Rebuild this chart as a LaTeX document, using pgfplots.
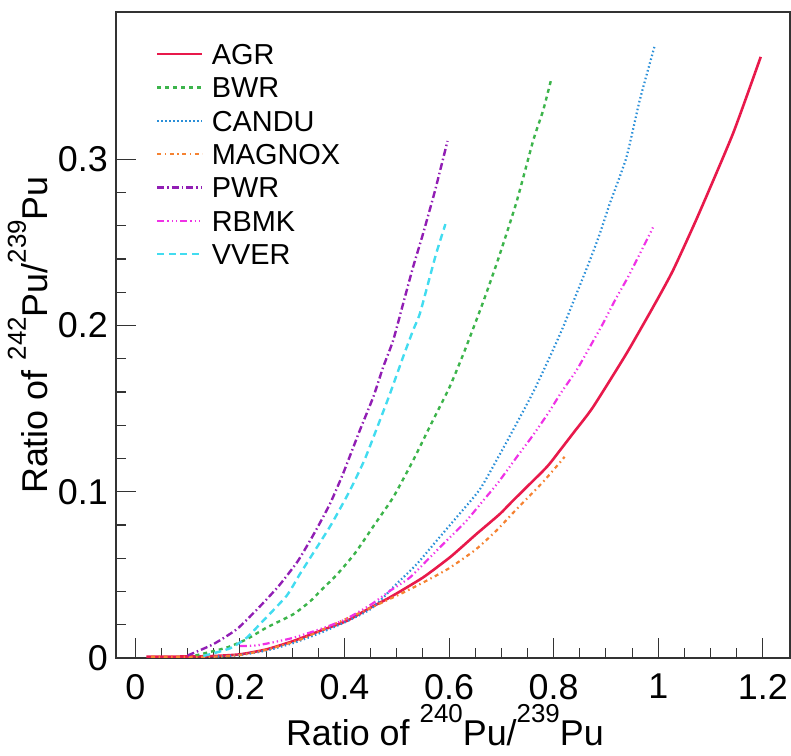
\documentclass[border=0pt]{standalone}
\usepackage{fontspec}
\setmainfont{Liberation Sans}
\usepackage{pgfplots}
\pgfplotsset{compat=1.18}
\usetikzlibrary{calc}
\definecolor{cAGR}{HTML}{E8194B}
\definecolor{cBWR}{HTML}{3CB44B}
\definecolor{cCANDU}{HTML}{2A8FD8}
\definecolor{cMAGNOX}{HTML}{F58231}
\definecolor{cPWR}{HTML}{911EB4}
\definecolor{cRBMK}{HTML}{F032E6}
\definecolor{cVVER}{HTML}{42DCF0}
\newcommand{\isosup}[1]{\raisebox{0.62em}{\fontsize{26}{26}\selectfont #1}}
\begin{document}
\begin{tikzpicture}
\begin{axis}[
  scale only axis, width=674bp, height=646bp,
  xmin=-0.037, xmax=1.252, ymin=0, ymax=0.3886,
  axis line style={line width=1.3bp, black!80},
  xtick={0,0.2,0.4,0.6,0.8,1,1.2}, ytick={0,0.1,0.2,0.3},
  minor x tick num=3, minor y tick num=4,
  tick align=inside, xtick pos=bottom, ytick pos=left,
  major tick length=20bp, minor tick length=10bp,
  every tick/.style={line width=1.1bp, black!80},
  /pgf/number format/assume math mode=true,
  tick label style={font=\fontsize{36}{40}\selectfont, inner sep=0pt},
  xticklabel style={anchor=north, yshift=-16bp},
  yticklabel style={anchor=east, xshift=-8bp},
  xlabel={Ratio of \isosup{240}Pu/\isosup{239}Pu},
  ylabel={Ratio of \isosup{242}Pu/\isosup{239}Pu},
  label style={font=\fontsize{36}{40}\selectfont, inner sep=0pt},
  xlabel style={at={(axis description cs:0.488,-0.1347)}, anchor=base},
  ylabel style={at={(axis description cs:-0.1009,0.5)}, anchor=base},
  legend style={draw=none, fill=none, at={(axis description cs:0.0593,0.9513)}, anchor=north west,
    font=\fontsize{29}{33}\selectfont, inner sep=0pt, row sep=12.3bp,
    nodes={inner sep=0pt, text height=21bp, text depth=0pt},
    /tikz/every odd column/.append style={column sep=8bp}},
  legend cell align=left,
  legend image code/.code={\draw[#1] (0bp,0bp) -- (45bp,0bp);},
  every axis plot/.append style={smooth, tension=0.35},
]
\addplot[cAGR, line width=2.6bp] coordinates {
(0.021,0.0008)(0.10,0.0009)(0.15,0.0012)(0.20,0.0022)(0.251,0.0052)(0.302,0.0102)(0.353,0.0163)(0.404,0.0223)(0.448,0.030)(0.487,0.0365)(0.55,0.0484)(0.601,0.0604)(0.627,0.0675)(0.652,0.0745)(0.697,0.0866)(0.722,0.0946)(0.786,0.1146)(0.8116,0.1247)(0.838,0.1355)(0.875,0.1508)(0.939,0.183)(0.99,0.211)(1.028,0.233)(1.076,0.266)(1.143,0.3155)(1.196,0.3616)};
\addlegendentry{AGR}
\addplot[cBWR, line width=2.4bp, dash pattern=on 4bp off 4bp] coordinates {
(0.115,0.0015)(0.174,0.0062)(0.213,0.0113)(0.251,0.0183)(0.302,0.0263)(0.334,0.034)(0.356,0.041)(0.385,0.050)(0.42,0.063)(0.458,0.0805)(0.493,0.0966)(0.531,0.1187)(0.566,0.141)(0.601,0.163)(0.63,0.185)(0.665,0.214)(0.694,0.240)(0.729,0.2743)(0.761,0.3114)(0.78,0.3295)(0.796,0.349)};
\addlegendentry{BWR}
\addplot[cCANDU, line width=2.2bp, dash pattern=on 1.5bp off 2.5bp] coordinates {
(0.15,0.0008)(0.2,0.0018)(0.251,0.0045)(0.302,0.009)(0.353,0.015)(0.404,0.022)(0.448,0.029)(0.474,0.0363)(0.499,0.0444)(0.538,0.0564)(0.576,0.0705)(0.614,0.0845)(0.659,0.1015)(0.697,0.1225)(0.729,0.141)(0.761,0.16)(0.7925,0.181)(0.818,0.199)(0.8436,0.219)(0.869,0.239)(0.888,0.255)(0.907,0.273)(0.939,0.301)(0.9646,0.3355)(0.993,0.368)};
\addlegendentry{CANDU}
\addplot[cMAGNOX, line width=2.2bp, dash pattern=on 4bp off 3.5bp on 1.5bp off 3.5bp] coordinates {
(0.03,0.0008)(0.15,0.0008)(0.2,0.0018)(0.251,0.005)(0.3145,0.011)(0.378,0.020)(0.442,0.029)(0.51,0.039)(0.56,0.047)(0.60,0.054)(0.65,0.065)(0.69,0.0765)(0.729,0.0895)(0.78,0.106)(0.821,0.121)};
\addlegendentry{MAGNOX}
\addplot[cPWR, line width=2.4bp, dash pattern=on 7bp off 3bp on 1.5bp off 3bp] coordinates {
(0.10,0.0015)(0.149,0.0083)(0.194,0.0173)(0.232,0.029)(0.254,0.0363)(0.276,0.044)(0.311,0.0584)(0.343,0.0755)(0.372,0.0926)(0.397,0.1107)(0.429,0.1367)(0.455,0.157)(0.474,0.175)(0.493,0.191)(0.512,0.213)(0.531,0.235)(0.55,0.255)(0.573,0.281)(0.597,0.311)};
\addlegendentry{PWR}
\addplot[cRBMK, line width=2.2bp, dash pattern=on 7bp off 3bp on 1.3bp off 3bp on 1.3bp off 3bp on 1.3bp off 3bp] coordinates {
(0.20,0.0072)(0.23,0.0075)(0.26,0.0092)(0.30,0.012)(0.35,0.017)(0.40,0.023)(0.45,0.032)(0.487,0.0404)(0.525,0.0484)(0.563,0.0604)(0.595,0.0705)(0.633,0.0825)(0.665,0.0946)(0.694,0.1056)(0.729,0.1207)(0.7575,0.1327)(0.789,0.147)(0.815,0.160)(0.8436,0.173)(0.869,0.187)(0.894,0.201)(0.917,0.215)(0.942,0.229)(0.9646,0.243)(0.99,0.259)};
\addlegendentry{RBMK}
\addplot[cVVER, line width=2.4bp, dash pattern=on 7bp off 4.5bp] coordinates {
(0.13,0.0012)(0.181,0.0058)(0.213,0.0122)(0.238,0.0203)(0.289,0.0373)(0.3145,0.0504)(0.343,0.0645)(0.375,0.0805)(0.41,0.1006)(0.439,0.1197)(0.4675,0.1428)(0.487,0.159)(0.512,0.181)(0.531,0.197)(0.544,0.207)(0.563,0.229)(0.576,0.244)(0.593,0.261)};
\addlegendentry{VVER}
\coordinate (bl) at (rel axis cs:0,0);
\coordinate (tr) at (rel axis cs:1,1);
\end{axis}
\pgfresetboundingbox
\path[use as bounding box] ($(bl)+(-116bp,-98bp)$) rectangle ($(tr)+(1bp,12bp)$);
\end{tikzpicture}
\end{document}
